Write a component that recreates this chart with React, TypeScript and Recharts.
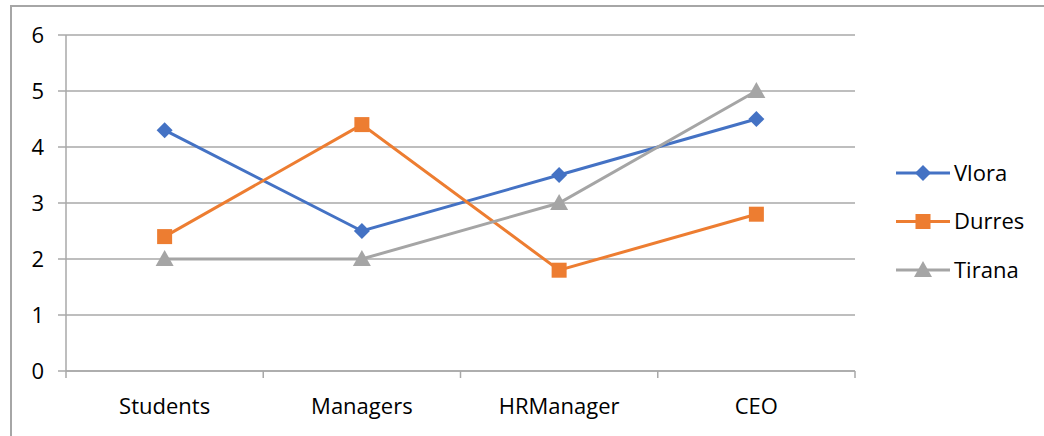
import React from "react";
import { LineChart, Line, XAxis, YAxis, CartesianGrid } from "recharts";

const categories = ["Students", "Managers", "HRManager", "CEO"];
const vlora = [4.3, 2.5, 3.5, 4.5];
const durres = [2.4, 4.4, 1.8, 2.8];
const tirana = [2, 2, 3, 5];
const yTicks = [0, 1, 2, 3, 4, 5, 6];

const data = categories.map((c, i) => ({
  name: c,
  Vlora: vlora[i],
  Durres: durres[i],
  Tirana: tirana[i],
}));

const FONT = "'Open Sans', 'Noto Sans', sans-serif";
const FS = 22;
const GRID = "#a8a8a8";

const BLUE = "#4472C4";
const ORANGE = "#ED7D31";
const GREY = "#A5A5A5";

const Diamond = (props: any) => {
  const { cx, cy, fill } = props;
  if (cx == null || cy == null) return null;
  const r = 8;
  return <path d={`M${cx},${cy - r}L${cx + r},${cy}L${cx},${cy + r}L${cx - r},${cy}Z`} fill={fill} />;
};
const Square = (props: any) => {
  const { cx, cy, fill } = props;
  if (cx == null || cy == null) return null;
  const r = 7.5;
  return <rect x={cx - r} y={cy - r} width={2 * r} height={2 * r} fill={fill} />;
};
const Triangle = (props: any) => {
  const { cx, cy, fill } = props;
  if (cx == null || cy == null) return null;
  return <path d={`M${cx},${cy - 9}L${cx + 9},${cy + 7}L${cx - 9},${cy + 7}Z`} fill={fill} />;
};

const series = [
  { key: "Vlora", color: BLUE, Shape: Diamond },
  { key: "Durres", color: ORANGE, Shape: Square },
  { key: "Tirana", color: GREY, Shape: Triangle },
];

const CatTick = (props: any) => {
  const { x, y, payload, index, visibleTicksCount } = props;
  const half = payload && payload.offset ? payload.offset : 98.6;
  const isLast = index === (visibleTicksCount ?? categories.length) - 1;
  return (
    <g>
      <line x1={x - half} x2={x - half} y1={y} y2={y + 7} stroke={GRID} strokeWidth={1.5} />
      {isLast && <line x1={x + half} x2={x + half} y1={y} y2={y + 7} stroke={GRID} strokeWidth={1.5} />}
      <text x={x} y={y + 27} dy="0.71em" textAnchor="middle" fontFamily={FONT} fontSize={FS} fill="#000">
        {payload.value}
      </text>
    </g>
  );
};

const LegendBox = () => (
  <svg width={150} height={150} style={{ position: "absolute", left: 890, top: 150 }}>
    {series.map((s, i) => {
      const y = 23 + i * 48.5;
      const S = s.Shape;
      return (
        <g key={s.key}>
          <line x1={6} x2={60} y1={y} y2={y} stroke={s.color} strokeWidth={3} />
          <S cx={33} cy={y} fill={s.color} />
          <text x={64} y={y} dy="0.35em" fontFamily={FONT} fontSize={FS} fill="#000">
            {s.key}
          </text>
        </g>
      );
    })}
  </svg>
);

export default function App() {
  return (
    <div style={{ position: "absolute", left: 0, top: 0, width: 1044, height: 436, background: "#fff", overflow: "hidden" }}>
      <div
        style={{
          position: "absolute",
          left: 10,
          top: 5,
          width: 1044,
          height: 440,
          borderLeft: "2px solid #a6a6a6",
          borderTop: "2px solid #a6a6a6",
        }}
      />
      <div style={{ position: "absolute", left: 0, top: 0 }}>
        <LineChart width={1044} height={436} data={data} margin={{ top: 35, right: 189, bottom: 0, left: 0 }}>
          <CartesianGrid horizontal vertical={false} stroke={GRID} strokeWidth={1.5} />
          <XAxis
            dataKey="name"
            scale="band"
            height={65}
            axisLine={{ stroke: GRID, strokeWidth: 1.5 }}
            tickLine={false}
            tickSize={0}
            tickMargin={0}
            tick={<CatTick />}
            interval={0}
          />
          <YAxis
            domain={[0, 6]}
            ticks={yTicks}
            width={66}
            axisLine={{ stroke: GRID, strokeWidth: 1.5 }}
            tickLine={{ stroke: GRID, strokeWidth: 1.5 }}
            tickSize={8}
            tickMargin={14}
            tick={{ fontFamily: FONT, fontSize: FS, fill: "#000" }}
            interval={0}
          />
          {series.map((s) => (
            <Line
              key={s.key}
              dataKey={s.key}
              stroke={s.color}
              strokeWidth={3}
              dot={(p: any) => <s.Shape key={`${s.key}-${p.index}`} {...p} fill={s.color} />}
              activeDot={false}
              isAnimationActive={false}
            />
          ))}
        </LineChart>
      </div>
      <LegendBox />
    </div>
  );
}
